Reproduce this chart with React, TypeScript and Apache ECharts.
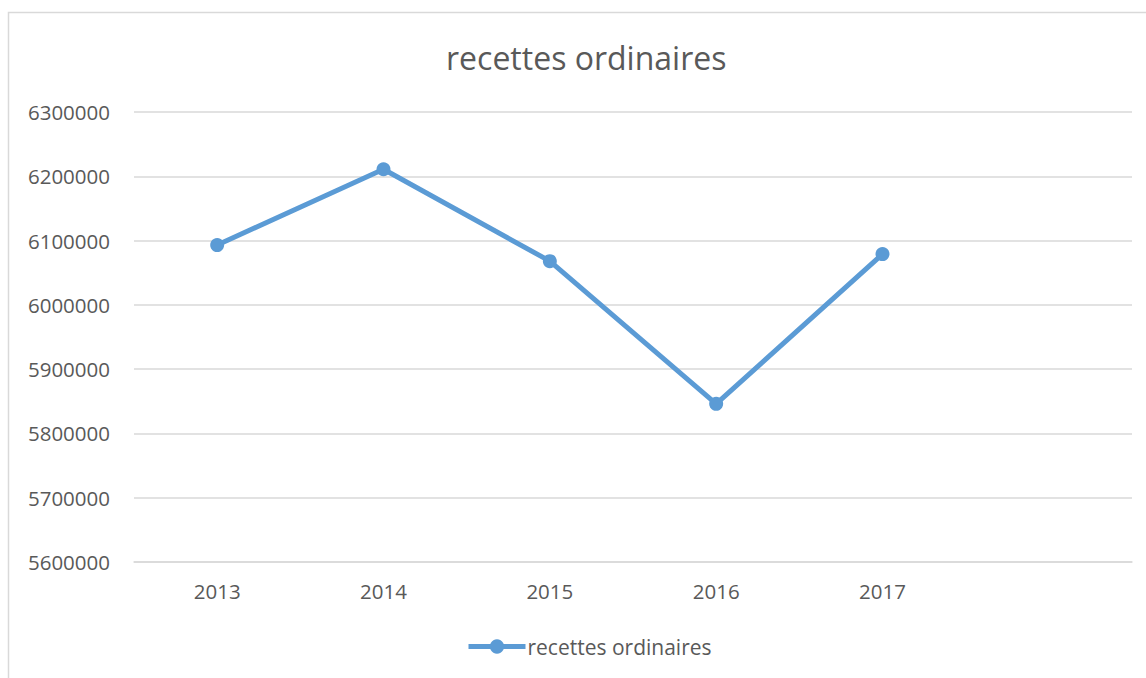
import React, { useEffect, useRef } from "react";
import * as echarts from "echarts";

const categories = ["2013", "2014", "2015", "2016", "2017", ""];
const seriesName = "recettes ordinaires";
const values = [6093000, 6211000, 6068000, 5846000, 6079000, null];
const yMin = 5600000;
const yMax = 6300000;
const yInterval = 100000;

export default function App() {
  const ref = useRef<HTMLDivElement>(null);
  useEffect(() => {
    if (!ref.current) return;
    const chart = echarts.init(ref.current, undefined, { renderer: "svg" });
    const font = "'Open Sans', 'Noto Sans', sans-serif";
    chart.setOption({
      animation: false,
      backgroundColor: "#ffffff",
      textStyle: { fontFamily: font },
      title: {
        text: "recettes ordinaires",
        left: 441,
        top: 36,
        textStyle: { fontSize: 32, fontWeight: "normal", color: "#595959", fontFamily: font },
      },
      graphic: [
        {
          type: "rect",
          shape: { x: 8.5, y: 12.5, width: 1160, height: 700 },
          style: { fill: "none", stroke: "#D9D9D9", lineWidth: 1.5 },
          silent: true,
          z: -1,
        },
      ],
      legend: {
        data: [seriesName],
        left: 466,
        top: 636,
        itemWidth: 57,
        itemHeight: 18,
        itemGap: 4,
        lineStyle: { width: 5 },
        textStyle: { fontSize: 21, color: "#595959", fontFamily: font, padding: [0, 0, 0, -3] },
        padding: 0,
      },
      grid: { left: 134, right: 14, top: 112, bottom: 116, containLabel: false },
      xAxis: {
        type: "category",
        data: categories,
        boundaryGap: true,
        axisLine: { show: true, lineStyle: { color: "#D9D9D9", width: 1.5 } },
        axisTick: { show: false },
        axisLabel: { fontSize: 20.5, color: "#595959", margin: 18, fontFamily: font },
      },
      yAxis: {
        type: "value",
        min: yMin,
        max: yMax,
        interval: yInterval,
        axisLine: { show: false },
        axisTick: { show: false },
        splitLine: { lineStyle: { color: "#D9D9D9", width: 1.5 } },
        axisLabel: {
          fontSize: 20.5,
          color: "#595959",
          margin: 24,
          fontFamily: font,
          formatter: (v: number) => String(v),
        },
      },
      series: [
        {
          name: seriesName,
          type: "line",
          data: values,
          symbol: "circle",
          symbolSize: 14,
          lineStyle: { color: "#5B9BD5", width: 5 },
          itemStyle: { color: "#5B9BD5" },
        },
      ],
    });
    return () => chart.dispose();
  }, []);
  return (
    <div
      ref={ref}
      style={{ position: "absolute", left: 0, top: 0, width: 1146, height: 678 }}
    />
  );
}
